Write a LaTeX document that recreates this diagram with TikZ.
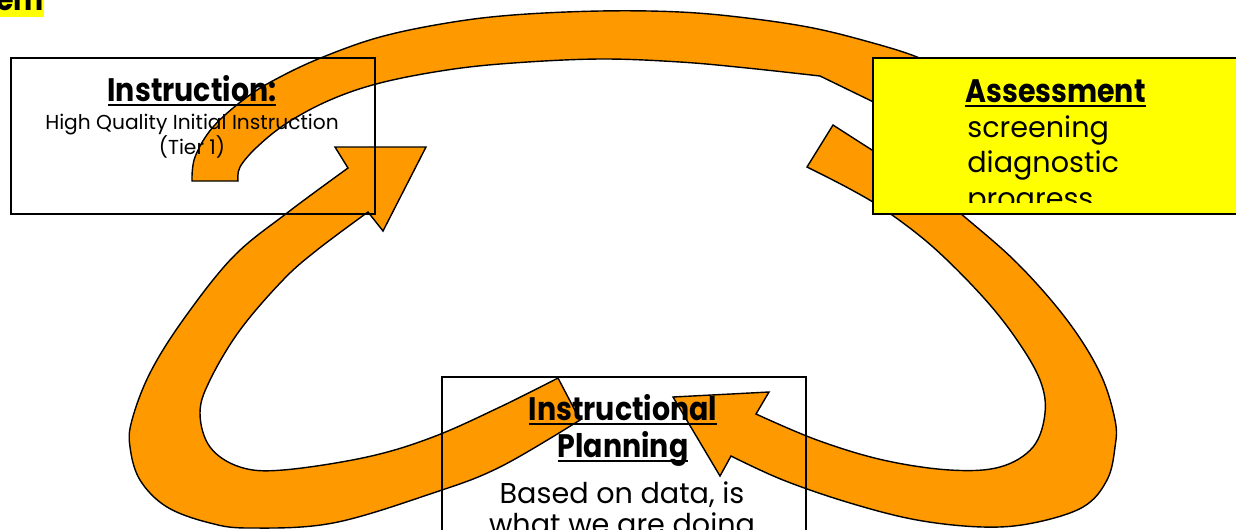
\documentclass[tikz,border=0pt]{standalone}
\usepackage{fontspec}
\setmainfont{Poppins}
\newfontfamily\ttlfont[FakeStretch=0.875]{Poppins}
\definecolor{orng}{RGB}{255,153,0}
\definecolor{yel}{RGB}{255,255,0}
\newcommand\ulx[1]{\setbox0=\hbox{#1}\rlap{\rule[-3pt]{\wd0}{1.5pt}}\box0}
\begin{document}
\begin{tikzpicture}[x=0.02cm,y=-0.02cm,
  arrowshape/.style={fill=orng, draw=black, line width=0.8pt, line join=miter},
  boxline/.style={draw=black, line width=0.9pt},
  ttl/.style={font=\ttlfont\bfseries\fontsize{18.5}{22}\selectfont, inner sep=0pt},
  sub/.style={font=\fontsize{11.5}{14}\selectfont, inner sep=0pt},
  body/.style={font=\fontsize{16.3}{20}\selectfont, inner sep=0pt},
  smoothedge/.style={smooth, tension=0.6},
]
\useasboundingbox (0,0) rectangle (1236,529);
\clip (0,0) rectangle (1236,529);

% corner title fragment
\node[anchor=base east, fill=yel, inner sep=0pt, text depth=4pt, font=\ttlfont\bfseries\fontsize{18.5}{22}\selectfont] (corner) at (44,10) {System};

% top arc arrow (Instruction -> Assessment), head hidden behind the yellow box
\path[arrowshape] (192,181) -- (238,181)
  -- plot[smoothedge] coordinates {(238,181) (240,167) (257,147) (287,123) (330,100) (380,83) (447,70) (513,63) (600,59) (680,62) (747,68) (820,76)}
  -- (890,110) -- (945,72)
  -- plot[smoothedge] coordinates {(945,72) (917,57) (873,43) (813,28) (747,18) (680,12) (600,11) (513,15) (447,23) (380,37) (323,57) (280,77) (247,97) (213,127) (195,157) (192,181)}
  -- cycle;

% left arrow (Planning -> Instruction)
\path[arrowshape] (426,147) -- (383,231) -- (368,212)
  -- plot[smoothedge] coordinates {(368,212) (317,250) (283,280) (240,330) (210,380) (200,413) (210,447) (240,467) (283,470) (367,457) (433,437) (500,407) (558,378)}
  -- (580,420)
  -- plot[smoothedge] coordinates {(580,420) (500,467) (433,493) (333,523) (250,528) (210,523) (167,507) (140,480) (130,447) (132,420) (150,373) (183,320) (233,257) (287,213) (348,168)}
  -- (335,147) -- cycle;

% right arrow (Assessment -> Planning)
\path[arrowshape] (673,397) -- (769,392) -- (756,414)
  -- plot[smoothedge] coordinates {(756,414) (817,440) (883,460) (950,470) (1000,467) (1033,447) (1045,413) (1040,380) (1017,340) (983,297) (933,247) (885,210) (850,189) (807,167)}
  -- (833,125)
  -- plot[smoothedge] coordinates {(833,125) (872,150) (920,180) (960,213) (1017,263) (1067,320) (1100,373) (1115,420) (1115,447) (1107,480) (1083,507) (1033,523) (983,527) (917,520) (850,503) (783,480) (731,456)}
  -- (720,476) -- cycle;

% Instruction box
\node[boxline, anchor=north west, minimum width=364*0.02cm, minimum height=156*0.02cm, inner sep=0pt] (instr) at (10,57) {};
\node[ttl, anchor=base] (instrT) at (192,101) {\ulx{Instruction:}};
\node[sub, anchor=base] (instrS) at (192,129) {High Quality Initial Instruction};
\node[sub, anchor=base] (instrU) at (192,154) {(Tier 1)};

% Planning box
\node[boxline, anchor=north west, minimum width=364*0.02cm, minimum height=200*0.02cm, inner sep=0pt] (plan) at (441,376) {};
\node[ttl, anchor=base] (planT1) at (623,420) {\ulx{Instructional}};
\node[ttl, anchor=base] (planT2) at (623,457) {\ulx{Planning}};
\node[body, anchor=base] (planB1) at (622,503) {Based on data, is};
\node[body, anchor=base] (planB2) at (622,534) {what we are doing};

% Assessment box
\node[boxline, fill=yel, anchor=north west, minimum width=380*0.02cm, minimum height=156*0.02cm, inner sep=0pt] (assess) at (872,57) {};
\node[ttl, anchor=base west] (assT) at (965,102) {\ulx{Assessment}};
\node[body, anchor=base west] (assB1) at (967,137) {screening};
\node[body, anchor=base west] (assB2) at (967,172) {diagnostic};
\begin{scope}
\clip (880,60) rectangle (1230,202);
\node[body, anchor=base west] (assB3) at (967,208) {progress};
\end{scope}
\end{tikzpicture}
\end{document}
